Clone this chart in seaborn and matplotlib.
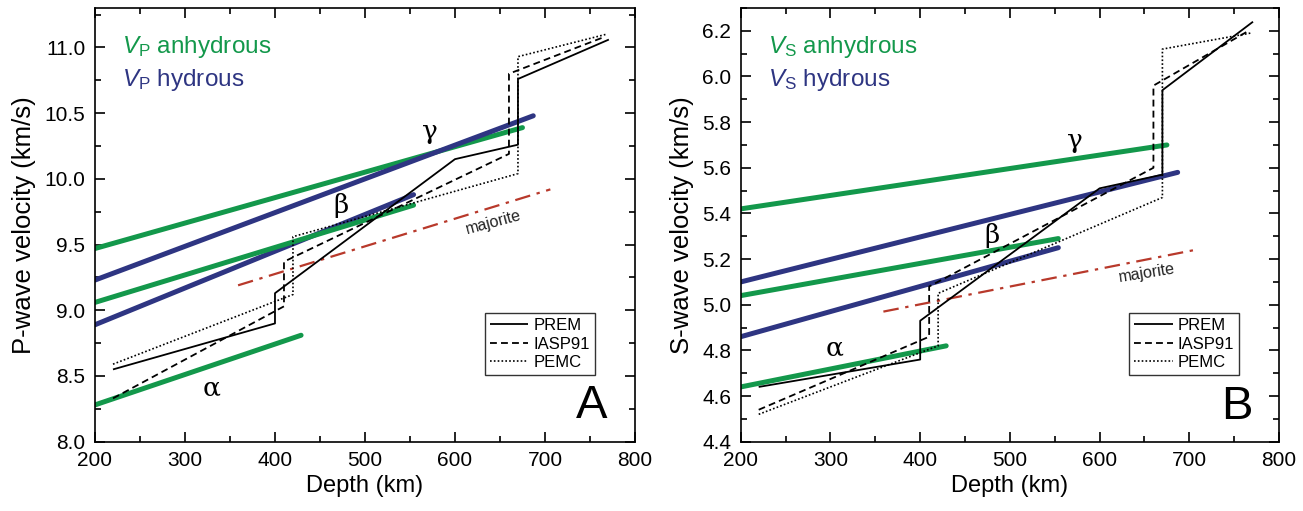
import numpy as np
import pandas as pd
import matplotlib
matplotlib.use("Agg")
import matplotlib.pyplot as plt
from matplotlib.ticker import MultipleLocator, FormatStrFormatter
import seaborn as sns

sns.set_theme(style="ticks")
plt.rcParams["font.family"] = ["Liberation Sans", "DejaVu Sans"]
plt.rcParams["mathtext.fontset"] = "custom"
plt.rcParams["mathtext.rm"] = "Liberation Sans"
plt.rcParams["mathtext.it"] = "Liberation Sans:italic"
plt.rcParams["text.color"] = "black"

GREEN = "#13984b"
NAVY = "#2e3582"
RED = "#b8392b"

# ---- reference 1-D models (depth km, velocity km/s) ----
prem_depth = [220, 400, 400, 600, 670, 670, 771]
prem_vp = [8.55, 8.90, 9.13, 10.15, 10.26, 10.76, 11.06]
prem_vs = [4.64, 4.76, 4.93, 5.51, 5.57, 5.94, 6.24]

iasp_depth = [220, 410, 410, 660, 660, 766]
iasp_vp = [8.33, 9.03, 9.37, 10.19, 10.80, 11.08]
iasp_vs = [4.54, 4.86, 5.08, 5.60, 5.96, 6.20]

pemc_depth = [220, 420, 420, 670, 670, 768]
pemc_vp = [8.59, 9.12, 9.56, 10.04, 10.93, 11.10]
pemc_vs = [4.52, 4.82, 5.05, 5.47, 6.12, 6.19]

# ---- mineral velocities (start/end points) ----
alpha_depth = [200, 429]
beta_depth = [200, 554]
gamma_anh_depth = [200, 675]
gamma_hyd_depth = [200, 687]
majorite_depth = [359, 706]

vp_alpha = [8.28, 8.81]
vp_beta_anh = [9.06, 9.80]
vp_beta_hyd = [8.89, 9.88]
vp_gamma_anh = [9.47, 10.39]
vp_gamma_hyd = [9.23, 10.48]
vp_majorite = [9.19, 9.92]

vs_alpha = [4.64, 4.82]
vs_beta_anh = [5.04, 5.29]
vs_beta_hyd = [4.86, 5.25]
vs_gamma_anh = [5.42, 5.70]
vs_gamma_hyd = [5.10, 5.58]
vs_majorite = [4.97, 5.24]


def seg(ax, x, y, color, lw, label=None, dashes=None):
    d = pd.DataFrame({"depth": x, "v": y})
    sns.lineplot(data=d, x="depth", y="v", ax=ax, color=color, lw=lw,
                 sort=False, estimator=None, label=label, legend=False,
                 solid_capstyle="round")
    line = ax.lines[-1]
    if dashes is not None:
        line.set_dashes(dashes)
        line.set_solid_capstyle("butt")
    return line


fig = plt.figure(figsize=(13.03, 5.11), dpi=100)
axA = fig.add_axes([0.0729, 0.1356, 0.4144, 0.8487])
axB = fig.add_axes([0.5685, 0.1356, 0.4131, 0.8487])

panels = [
    (axA, "P", prem_vp, iasp_vp, pemc_vp,
     vp_alpha, vp_beta_anh, vp_beta_hyd, vp_gamma_anh, vp_gamma_hyd, vp_majorite),
    (axB, "S", prem_vs, iasp_vs, pemc_vs,
     vs_alpha, vs_beta_anh, vs_beta_hyd, vs_gamma_anh, vs_gamma_hyd, vs_majorite),
]

for ax, wave, prem, iasp, pemc, a, ba, bh, ga, gh, maj in panels:
    lw_thick = 3.6
    seg(ax, gamma_anh_depth, ga, GREEN, lw_thick)
    seg(ax, gamma_hyd_depth, gh, NAVY, lw_thick)
    seg(ax, beta_depth, bh, NAVY, lw_thick)
    seg(ax, beta_depth, ba, GREEN, lw_thick)
    seg(ax, alpha_depth, a, GREEN, lw_thick)
    seg(ax, majorite_depth, maj, RED, 1.6, dashes=(7, 3, 1.5, 3))

    l1 = seg(ax, prem_depth, prem, "black", 1.3, label="PREM")
    l1.set_solid_capstyle("butt")
    l2 = seg(ax, iasp_depth, iasp, "black", 1.3, label="IASP91", dashes=(3.8, 2.3))
    l3 = seg(ax, pemc_depth, pemc, "black", 1.2, label="PEMC", dashes=(1, 1.3))

    leg = ax.legend(handles=[l1, l2, l3], loc="lower right", fontsize=12,
                    frameon=True, fancybox=False, edgecolor="black",
                    handlelength=2.3, handletextpad=0.3, borderpad=0.3,
                    labelspacing=0.2, borderaxespad=0,
                    bbox_to_anchor=(0.926, 0.154))
    leg.get_frame().set_linewidth(1.0)
    for t in leg.get_texts():
        t.set_color("black")

    ax.set_xlim(200, 800)
    ax.xaxis.set_major_locator(MultipleLocator(100))
    ax.xaxis.set_minor_locator(MultipleLocator(50))
    ax.set_xlabel("Depth (km)", fontsize=17, labelpad=3, color="black")
    ax.tick_params(which="both", direction="in", top=True, right=True,
                   width=1.2, color="black", labelcolor="black", labelsize=15)
    ax.tick_params(which="major", length=7)
    ax.tick_params(which="minor", length=4)
    ax.tick_params(axis="x", which="major", pad=7)
    ax.tick_params(axis="y", which="major", pad=7)
    ax.yaxis.set_major_formatter(FormatStrFormatter("%.1f"))
    for s in ax.spines.values():
        s.set_linewidth(1.2)
        s.set_color("black")

    ax.text(0.05, 0.91, r"$V_\mathrm{%s}$ anhydrous" % wave, transform=ax.transAxes,
            color=GREEN, fontsize=17.5, va="center")
    ax.text(0.05, 0.834, r"$V_\mathrm{%s}$ hydrous" % wave, transform=ax.transAxes,
            color=NAVY, fontsize=17.5, va="center")

# panel A details
axA.set_ylim(8.0, 11.3)
axA.yaxis.set_major_locator(MultipleLocator(0.5))
axA.yaxis.set_minor_locator(MultipleLocator(0.25))
axA.set_ylabel("P-wave velocity (km/s)", fontsize=18.5, labelpad=6, color="black")
axA.text(572, 10.36, "γ", fontsize=19, ha="center", va="center", family="DejaVu Serif")
axA.text(473, 9.80, "β", fontsize=19, ha="center", va="center", family="DejaVu Serif")
axA.text(330, 8.41, "α", fontsize=19, ha="center", va="center", family="DejaVu Serif")
axA.text(643, 9.67, "majorite", fontsize=11.5, ha="center", va="center",
         rotation=15, rotation_mode="anchor", color="#222222")
axA.text(752, 8.27, "A", fontsize=34, ha="center", va="center")

# panel B details
axB.set_ylim(4.4, 6.3)
axB.yaxis.set_major_locator(MultipleLocator(0.2))
axB.yaxis.set_minor_locator(MultipleLocator(0.1))
axB.set_ylabel("S-wave velocity (km/s)", fontsize=18.5, labelpad=6, color="black")
axB.text(572, 5.72, "γ", fontsize=19, ha="center", va="center", family="DejaVu Serif")
axB.text(480, 5.305, "β", fontsize=19, ha="center", va="center", family="DejaVu Serif")
axB.text(305, 4.81, "α", fontsize=19, ha="center", va="center", family="DejaVu Serif")
axB.text(653, 5.137, "majorite", fontsize=11.5, ha="center", va="center",
         rotation=9, rotation_mode="anchor", color="#222222")
axB.text(753, 4.55, "B", fontsize=34, ha="center", va="center")

fig.savefig("out.png", dpi=100)
